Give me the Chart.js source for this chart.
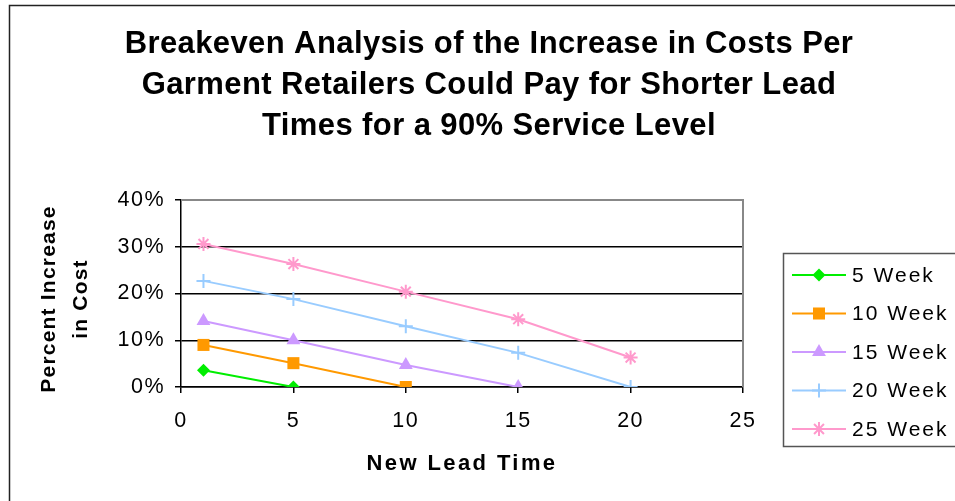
<!DOCTYPE html>
<html>
<head>
<meta charset="utf-8">
<script src="https://cdn.jsdelivr.net/npm/chart.js@4/dist/chart.umd.min.js"></script>
<style>
  body { margin: 0; background: #fff; }
  canvas { display: block; }
</style>
</head>
<body>
<canvas id="myChart" width="955" height="501"></canvas>
<script>
// lead times (weeks) on the x axis
const newLeadTime = [1, 5, 10, 15, 20];
const seriesNames = ["5 Week", "10 Week", "15 Week", "20 Week", "25 Week"];

// percent increase in cost, one array per current lead time
const week5 = [0.036, 0.0];
const week10 = [0.090, 0.051, 0.0];
const week15 = [0.141, 0.100, 0.047, 0.0];
const week20 = [0.227, 0.188, 0.130, 0.073, 0.0];
const week25 = [0.306, 0.263, 0.204, 0.145, 0.063];

const yTicks = [0, 0.1, 0.2, 0.3, 0.4];
const xTicks = [0, 5, 10, 15, 20, 25];

const titleLines = [
    "Breakeven Analysis of the Increase in Costs Per",
    "Garment Retailers Could Pay for Shorter Lead",
    "Times for a 90% Service Level"
];

const styles = [
    { color: "#00ee00", pointStyle: "rectRot", radius: 6.5 },
    { color: "#ff9900", pointStyle: "rect", radius: 8.5 },
    { color: "#cc99ff", pointStyle: "triangle", radius: 8 },
    { color: "#99ccff", pointStyle: "cross", radius: 7 },
    { color: "#ff99cc", pointStyle: "star", radius: 7 }
];

function toPoints(values) {
    return values.map((v, i) => ({ x: newLeadTime[i], y: v }));
}

const datasets = [week5, week10, week15, week20, week25].map((vals, i) => ({
    label: seriesNames[i],
    data: toPoints(vals),
    borderColor: styles[i].color,
    backgroundColor: styles[i].color,
    pointBackgroundColor: styles[i].color,
    pointBorderColor: styles[i].color,
    pointStyle: styles[i].pointStyle,
    pointRadius: styles[i].radius,
    pointBorderWidth: (styles[i].pointStyle === "cross" || styles[i].pointStyle === "star") ? 2 : 0,
    borderWidth: 2,
    tension: 0
}));

const FONT = "'Liberation Sans', Arial, sans-serif";

// title, axis titles, outer frame, legend and plot border
const decorations = {
    id: "decorations",
    beforeDraw(chart) {
        chart.ctx.letterSpacing = "1.5px";
    },
    afterDraw(chart) {
        const ctx = chart.ctx;
        const area = chart.chartArea;
        ctx.save();

        // outer frame
        ctx.strokeStyle = "#222";
        ctx.lineWidth = 1.5;
        ctx.beginPath();
        ctx.moveTo(9.5, 501);
        ctx.lineTo(9.5, 5.5);
        ctx.lineTo(955, 5.5);
        ctx.stroke();

        // plot border top/right
        ctx.strokeStyle = "#888";
        ctx.lineWidth = 2;
        ctx.beginPath();
        ctx.moveTo(area.left, area.top);
        ctx.lineTo(area.right, area.top);
        ctx.lineTo(area.right, area.bottom);
        ctx.stroke();

        // title
        ctx.fillStyle = "#000";
        ctx.textAlign = "center";
        ctx.textBaseline = "middle";
        ctx.letterSpacing = "0.4px";
        ctx.font = "bold 31px " + FONT;
        titleLines.forEach((t, i) => ctx.fillText(t, 489, 44 + i * 41));

        // axis titles
        ctx.letterSpacing = "1.2px";
        ctx.font = "bold 21px " + FONT;
        ctx.save();
        ctx.translate(49, 299);
        ctx.rotate(-Math.PI / 2);
        ctx.fillText("Percent Increase", 0, 0);
        ctx.restore();
        ctx.save();
        ctx.translate(81, 299);
        ctx.rotate(-Math.PI / 2);
        ctx.fillText("in Cost", 0, 0);
        ctx.restore();

        ctx.letterSpacing = "2.4px";
        ctx.font = "bold 22px " + FONT;
        ctx.fillText("New Lead Time", 462, 464);

        // legend
        ctx.strokeStyle = "#555";
        ctx.lineWidth = 1.5;
        ctx.strokeRect(783.5, 253.5, 200, 193);
        ctx.textAlign = "left";
        ctx.font = "21px " + FONT;
        ctx.letterSpacing = "2px";
        chart.data.datasets.forEach((ds, i) => {
            const y = 275 + i * 38.5;
            ctx.strokeStyle = ds.borderColor;
            ctx.fillStyle = ds.borderColor;
            ctx.lineWidth = 2;
            ctx.beginPath();
            ctx.moveTo(792, y);
            ctx.lineTo(846, y);
            ctx.stroke();
            Chart.helpers.drawPoint(ctx, {
                pointStyle: ds.pointStyle,
                radius: ds.pointRadius,
                rotation: 0,
                borderWidth: ds.pointBorderWidth
            }, 819, y);
            ctx.fillStyle = "#000";
            ctx.fillText(ds.label, 852, y + 1);
        });

        ctx.restore();
    }
};

const ctx = document.getElementById("myChart").getContext("2d");
new Chart(ctx, {
    type: "line",
    data: { datasets: datasets },
    options: {
        responsive: false,
        animation: false,
        layout: { padding: { left: 0, top: 200, right: 212, bottom: 74 } },
        plugins: {
            legend: { display: false },
            title: { display: false },
            tooltip: { enabled: false }
        },
        scales: {
            x: {
                type: "linear",
                min: 0,
                max: 25,
                afterFit: s => { s.height = 40; },
                afterBuildTicks: s => { s.ticks = xTicks.map(v => ({ value: v })); },
                ticks: { color: "#000", font: { family: FONT, size: 21.5 }, padding: 15 },
                grid: { drawOnChartArea: false, drawTicks: true, tickLength: 6, color: "#000", lineWidth: 1.5 },
                border: { color: "#000", width: 1.5 }
            },
            y: {
                min: 0,
                max: 0.4,
                afterFit: s => { s.width = 181; },
                afterBuildTicks: s => { s.ticks = yTicks.map(v => ({ value: v })); },
                ticks: {
                    color: "#000",
                    font: { family: FONT, size: 21.5 },
                    padding: 10,
                    callback: v => Math.round(v * 100) + "%"
                },
                grid: { color: "#000", lineWidth: 1.5, tickLength: 6 },
                border: { color: "#000", width: 1.5 }
            }
        }
    },
    plugins: [decorations]
});
</script>
</body>
</html>
